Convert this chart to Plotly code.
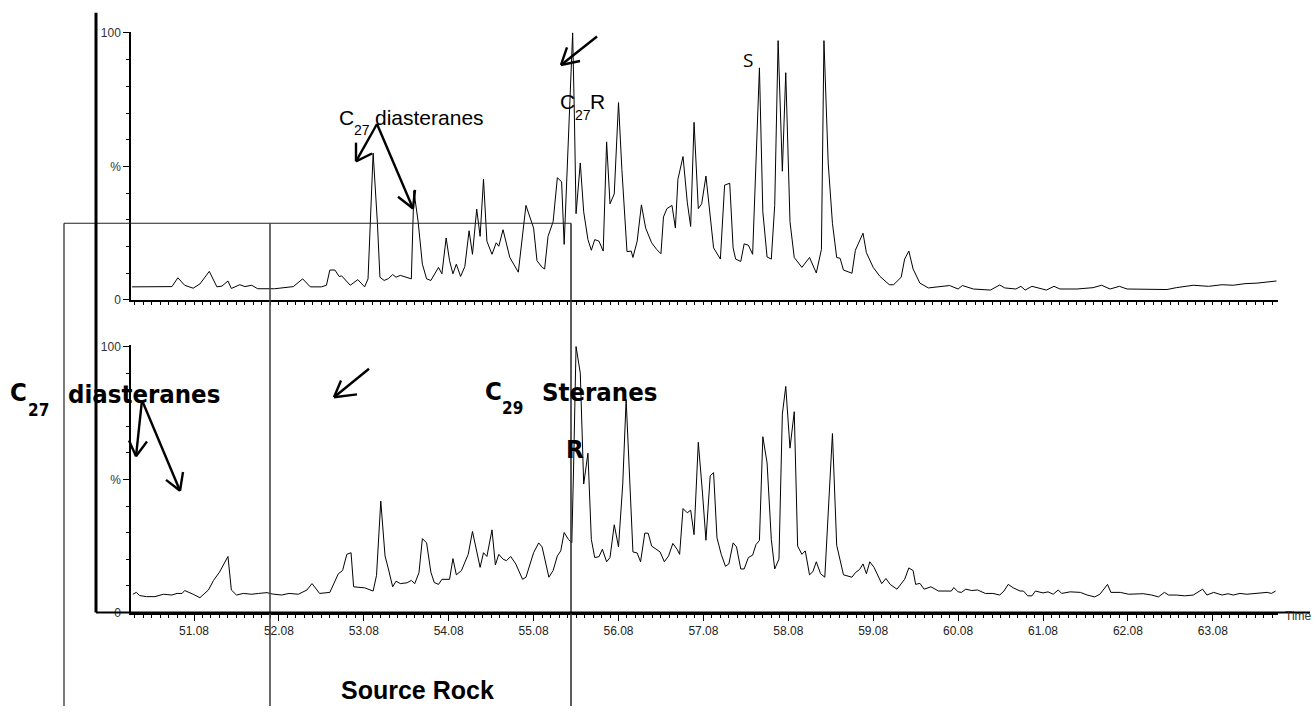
import plotly.graph_objects as go
import numpy as np

# ---------------- data (retention time in minutes, relative intensity %) ----------------
top_time = [50.35, 50.68, 50.82, 50.89, 50.97, 51.07, 51.15, 51.26, 51.35, 51.41,
            51.48, 51.52, 51.62, 51.68, 51.76, 51.83, 52.03, 52.25, 52.36, 52.45,
            52.58, 52.64, 52.68, 52.74, 52.79, 52.82, 52.92, 53.01, 53.09, 53.13,
            53.19, 53.24, 53.27, 53.32, 53.37, 53.42, 53.46, 53.51, 53.64, 53.67,
            53.72, 53.77, 53.82, 53.87, 53.96, 54.00, 54.05, 54.09, 54.13, 54.17,
            54.22, 54.27, 54.32, 54.36, 54.41, 54.45, 54.49, 54.53, 54.59, 54.64,
            54.67, 54.72, 54.80, 54.90, 54.99, 55.08, 55.12, 55.18, 55.21, 55.25,
            55.31, 55.36, 55.41, 55.44, 55.47, 55.50, 55.54, 55.56, 55.58, 55.63,
            55.67, 55.72, 55.76, 55.80, 55.85, 55.90, 55.94, 55.98, 56.03, 56.08,
            56.12, 56.18, 56.23, 56.25, 56.30, 56.35, 56.40, 56.47, 56.53, 56.58,
            56.61, 56.65, 56.71, 56.75, 56.78, 56.84, 56.89, 56.93, 56.97, 57.02,
            57.06, 57.11, 57.16, 57.20, 57.28, 57.33, 57.39, 57.43, 57.46, 57.52,
            57.56, 57.61, 57.66, 57.70, 57.74, 57.78, 57.83, 57.88, 57.92, 57.96,
            58.01, 58.05, 58.10, 58.15, 58.24, 58.33, 58.41, 58.47, 58.50, 58.55,
            58.60, 58.65, 58.69, 58.73, 58.83, 58.87, 58.96, 59.00, 59.08, 59.16,
            59.27, 59.32, 59.41, 59.45, 59.50, 59.55, 59.63, 59.73, 59.83, 59.98,
            60.08, 60.13, 60.26, 60.46, 60.57, 60.63, 60.76, 60.82, 60.87, 60.95,
            61.12, 61.21, 61.28, 61.48, 61.67, 61.77, 61.87, 61.98, 62.07, 62.46,
            62.54, 62.65, 62.85, 63.03, 63.19, 63.32, 63.46, 63.60, 63.75, 63.83]
top_intensity = [4.9, 4.9, 5.0, 8.3, 5.5, 4.4, 6.0, 10.7, 4.9, 5.2,
                 7.1, 4.3, 5.7, 5.0, 5.5, 4.2, 4.2, 5.0, 7.9, 4.9,
                 4.9, 5.5, 11.2, 11.2, 8.8, 9.0, 5.5, 7.6, 4.9, 7.9,
                 55.0, 29.0, 8.5, 7.3, 8.0, 9.5, 8.5, 9.2, 7.9, 40.9,
                 29.3, 13.4, 7.9, 7.3, 12.2, 9.8, 23.2, 14.7, 9.8, 13.4,
                 8.8, 12.5, 25.9, 17.1, 34.0, 23.8, 45.2, 22.0, 17.1, 21.4,
                 20.1, 26.3, 15.9, 10.4, 35.4, 26.9, 14.7, 12.2, 11.6, 23.8,
                 29.3, 45.8, 44.2, 20.8, 45.2, 72.0, 100.0, 69.6, 32.3, 51.3,
                 33.0, 22.6, 18.6, 22.6, 22.0, 18.3, 59.2, 36.0, 39.7, 73.9,
                 48.8, 18.1, 18.3, 15.9, 22.0, 35.6, 26.9, 21.4, 18.9, 17.3,
                 31.1, 34.2, 35.4, 26.9, 45.2, 53.7, 36.6, 27.5, 66.5, 34.2,
                 36.0, 46.4, 30.5, 19.5, 15.3, 43.0, 43.7, 19.5, 15.3, 14.4,
                 21.0, 20.5, 17.1, 49.5, 86.9, 33.0, 16.1, 15.3, 35.4, 97.1,
                 48.2, 85.1, 29.3, 15.9, 12.2, 15.9, 10.1, 18.9, 97.1, 51.3,
                 28.7, 15.9, 15.6, 11.2, 10.0, 18.6, 25.0, 17.7, 12.2, 8.8,
                 5.7, 5.7, 8.5, 15.3, 18.3, 11.6, 6.3, 4.5, 4.9, 5.4,
                 4.1, 5.4, 4.1, 3.7, 5.6, 4.5, 4.1, 5.1, 3.7, 5.1,
                 3.7, 5.1, 4.1, 4.1, 4.6, 5.5, 4.1, 5.1, 4.1, 4.1,
                 3.9, 4.6, 5.5, 5.1, 5.7, 5.5, 6.1, 6.3, 6.7, 7.1]

bottom_time = [50.36, 50.40, 50.44, 50.52, 50.62, 50.72, 50.82, 50.88, 50.94, 50.97,
               51.07, 51.15, 51.25, 51.31, 51.38, 51.48, 51.52, 51.58, 51.66, 51.76,
               51.84, 51.94, 52.00, 52.11, 52.20, 52.31, 52.41, 52.47, 52.56, 52.68,
               52.78, 52.83, 52.88, 52.93, 52.96, 53.09, 53.19, 53.23, 53.28, 53.33,
               53.37, 53.42, 53.46, 53.51, 53.59, 53.64, 53.68, 53.73, 53.77, 53.82,
               53.87, 53.91, 53.96, 54.00, 54.09, 54.13, 54.17, 54.23, 54.31, 54.36,
               54.45, 54.49, 54.53, 54.59, 54.63, 54.67, 54.72, 54.76, 54.81, 54.87,
               54.95, 54.99, 55.08, 55.14, 55.18, 55.26, 55.31, 55.36, 55.40, 55.44,
               55.49, 55.53, 55.55, 55.58, 55.63, 55.67, 55.72, 55.76, 55.80, 55.85,
               55.89, 55.94, 55.98, 56.03, 56.08, 56.13, 56.17, 56.22, 56.25, 56.30,
               56.34, 56.39, 56.43, 56.47, 56.53, 56.57, 56.62, 56.67, 56.72, 56.77,
               56.80, 56.84, 56.89, 56.93, 56.97, 57.02, 57.07, 57.11, 57.16, 57.20,
               57.24, 57.29, 57.34, 57.38, 57.43, 57.47, 57.52, 57.56, 57.61, 57.66,
               57.70, 57.74, 57.78, 57.83, 57.88, 57.92, 57.97, 58.01, 58.05, 58.10,
               58.15, 58.19, 58.24, 58.28, 58.33, 58.37, 58.41, 58.46, 58.51, 58.55,
               58.60, 58.65, 58.73, 58.83, 58.87, 58.92, 58.96, 59.00, 59.04, 59.09,
               59.18, 59.23, 59.28, 59.36, 59.45, 59.50, 59.55, 59.58, 59.63, 59.68,
               59.76, 59.85, 60.00, 60.03, 60.08, 60.12, 60.17, 60.24, 60.31, 60.40,
               60.49, 60.57, 60.62, 60.67, 60.73, 60.81, 60.85, 60.90, 60.95, 60.99,
               61.08, 61.14, 61.20, 61.26, 61.30, 61.40, 61.52, 61.60, 61.69, 61.75,
               61.84, 61.88, 61.99, 62.09, 62.20, 62.26, 62.36, 62.44, 62.51, 62.56,
               62.65, 62.75, 62.85, 62.96, 63.01, 63.09, 63.19, 63.26, 63.32, 63.40,
               63.48, 63.60, 63.72, 63.77, 63.82]
bottom_intensity = [6.9, 7.6, 6.4, 6.0, 6.0, 6.9, 6.6, 7.2, 7.2, 8.3,
                    6.9, 5.6, 8.5, 12.1, 15.2, 21.1, 8.5, 6.6, 7.2, 6.9,
                    7.2, 7.5, 7.0, 6.6, 7.2, 6.9, 8.5, 10.9, 7.2, 7.6,
                    14.6, 15.8, 21.9, 22.5, 9.7, 9.3, 8.1, 14.0, 41.9, 21.3,
                    16.4, 9.7, 11.8, 10.9, 11.2, 12.1, 10.9, 15.0, 27.8, 26.2,
                    15.2, 11.3, 10.6, 12.5, 12.5, 20.3, 14.2, 15.8, 21.9, 30.5,
                    17.0, 22.5, 21.1, 31.1, 17.9, 21.9, 20.1, 19.5, 21.1, 18.3,
                    12.5, 13.3, 22.5, 26.2, 24.7, 13.3, 15.8, 21.3, 23.2, 30.1,
                    27.5, 26.2, 53.2, 100.0, 90.0, 48.3, 59.9, 27.5, 20.7, 21.0,
                    23.8, 19.1, 20.7, 33.0, 24.7, 48.3, 80.1, 41.5, 22.8, 22.4,
                    19.1, 29.9, 29.8, 25.0, 23.8, 22.8, 19.1, 21.3, 26.0, 23.8,
                    21.9, 39.1, 37.5, 38.5, 29.3, 64.0, 44.6, 27.2, 51.4, 52.6,
                    28.1, 21.9, 17.4, 18.3, 26.2, 24.7, 16.4, 16.4, 20.7, 21.6,
                    25.6, 27.1, 66.1, 56.3, 27.5, 16.4, 20.1, 74.6, 85.0, 61.8,
                    75.5, 25.0, 21.9, 23.2, 14.2, 15.4, 19.1, 14.6, 13.3, 37.2,
                    67.3, 25.3, 14.2, 13.3, 15.0, 16.2, 18.3, 14.6, 19.1, 17.0,
                    10.9, 12.8, 10.6, 8.8, 12.5, 16.8, 15.8, 10.6, 11.0, 8.8,
                    9.7, 8.1, 8.1, 9.4, 7.8, 7.6, 8.8, 8.3, 8.5, 7.2,
                    7.2, 6.6, 8.1, 10.6, 9.3, 8.1, 8.1, 6.3, 6.3, 8.1,
                    7.4, 7.8, 6.9, 8.5, 7.2, 7.8, 7.6, 6.6, 5.9, 6.9,
                    10.6, 7.6, 7.6, 6.9, 6.9, 7.1, 6.6, 5.9, 7.6, 6.6,
                    6.6, 6.3, 6.6, 8.8, 6.6, 7.6, 6.6, 7.1, 6.6, 7.2,
                    6.9, 7.2, 7.6, 7.2, 8.1]

assert len(top_time) == len(top_intensity)
assert len(bottom_time) == len(bottom_intensity)

x_labels = ["51.08", "52.08", "53.08", "54.08", "55.08", "56.08",
            "57.08", "58.08", "59.08", "60.08", "61.08", "62.08", "63.08"]
y_tick_vals = [0, 50, 100]
y_tick_text = ["0", "%", "100"]

# ---------------- layout helpers ----------------
W, H = 1316, 713
X_RANGE = [50.338, 63.848]


def px(x):
    return x / W


def py(y):
    return 1 - y / H


shapes = []
annotations = []


def seg(x0, y0, x1, y1, w=1.0, c="black"):
    shapes.append(dict(type="line", xref="paper", yref="paper",
                       x0=px(x0), y0=py(y0), x1=px(x1), y1=py(y1),
                       line=dict(color=c, width=w)))


def arrow(x0, y0, x1, y1, a, b, w=2.4):
    seg(x0, y0, x1, y1, w)
    seg(x1, y1, a[0], a[1], w)
    seg(x1, y1, b[0], b[1], w)


def text(s, x, y, size, family, color="black", xanchor="left"):
    annotations.append(dict(text=s, x=px(x), y=py(y), xref="paper", yref="paper",
                            xanchor=xanchor, yanchor="middle", showarrow=False,
                            font=dict(size=size, family=family, color=color)))


# major ticks every 0.5 min, labels only at the .08 values
major_vals = [round(v, 2) for v in np.arange(50.58, 63.85, 0.5)]
major_text = [("%.2f" % v) if ("%.2f" % v) in x_labels else "" for v in major_vals]
minor_vals = [round(v, 2) for v in np.arange(50.38, 63.85, 0.1)]

tick_font = dict(family="Liberation Sans Narrow, Liberation Sans, Arial", size=12, color="#222")

fig = go.Figure()
fig.add_trace(go.Scatter(x=top_time, y=top_intensity, mode="lines",
                         line=dict(color="black", width=1), xaxis="x", yaxis="y",
                         showlegend=False, hoverinfo="skip"))
fig.add_trace(go.Scatter(x=bottom_time, y=bottom_intensity, mode="lines",
                         line=dict(color="black", width=1), xaxis="x2", yaxis="y2",
                         showlegend=False, hoverinfo="skip"))

xdom = [px(131), px(1278)]
common_x = dict(range=X_RANGE, domain=xdom, showgrid=False, zeroline=False,
                showline=True, linecolor="black", linewidth=2,
                ticks="outside", ticklen=6, tickwidth=1, tickcolor="black",
                tickmode="array", tickvals=major_vals,
                minor=dict(tickmode="array", tickvals=minor_vals, ticks="outside",
                           ticklen=3, tickwidth=1, tickcolor="black"),
                tickfont=tick_font)
common_y = dict(range=[0, 100.5], showgrid=False, zeroline=False,
                showline=True, linecolor="black", linewidth=1.5,
                ticks="outside", ticklen=6, tickwidth=1, tickcolor="black",
                tickmode="array", tickvals=y_tick_vals, ticktext=y_tick_text,
                minor=dict(tickmode="array", tickvals=[10, 20, 30, 40, 60, 70, 80, 90],
                           ticks="outside", ticklen=3, tickwidth=1, tickcolor="black"),
                tickfont=dict(family="Liberation Sans Narrow, Liberation Sans, Arial",
                              size=12, color="#333"))

fig.update_layout(
    width=W, height=H, autosize=False,
    margin=dict(l=0, r=0, t=0, b=0),
    paper_bgcolor="white", plot_bgcolor="white",
    xaxis=dict(common_x, anchor="y", ticktext=["" for _ in major_vals], showticklabels=False),
    yaxis=dict(common_y, anchor="x", domain=[py(300), py(27)]),
    xaxis2=dict(common_x, anchor="y2", ticktext=major_text),
    yaxis2=dict(common_y, anchor="x2", domain=[py(618), py(346)]),
)

# ---------------- frame lines drawn over the chromatograms ----------------
seg(64, 222, 571, 222, 1.2, "#222")
seg(64, 222, 64, 713, 1.2, "#222")
seg(270, 222, 270, 713, 1.6, "#444")
seg(571, 222, 571, 713, 1.6, "#333")
seg(96, 8, 96, 618, 3, "black")
seg(96, 618, 1310, 618, 2, "black")

# ---------------- arrows ----------------
arrow(377, 121, 356, 159, (356, 140), (372, 151))
arrow(377, 121, 413, 207, (415, 188), (398, 195))
arrow(597, 32, 561, 61, (567, 43), (580, 57))
arrow(142, 402, 136, 459, (129, 443), (147, 444))
arrow(142, 402, 180, 494, (166, 483), (183, 475))
arrow(369, 370, 334, 399, (341, 382), (357, 396))

# ---------------- labels ----------------
reg = "Liberation Sans, Arial"
text("C", 337, 114, 21, reg)
text("27", 352, 127, 14, reg)
text("diasteranes", 373, 114, 21, reg)
text("C", 558, 98, 21, reg)
text("27", 573, 112, 14, reg)
text("R", 588, 98, 21, reg)
text("S", 748, 56, 19, "Open Sans", xanchor="center")

cond = "DejaVu Sans Condensed, DejaVu Sans"
text("<b>C</b>", 8, 394, 25.5, cond)
text("<b>27</b>", 26, 412, 17, cond)
text("<b>diasteranes</b>", 66, 396, 25.5, cond)
text("<b>C</b>", 483, 393, 25.5, cond)
text("<b>29</b>", 500, 410, 17, cond)
text("<b>Steranes</b>", 540, 394, 25.5, cond)
text("<b>R</b>", 564, 452, 25.5, cond)

text("<b>Source Rock</b>", 339, 697, 25, reg)
text("Time", 1283, 621, 12, reg, color="#333")

fig.update_layout(shapes=shapes, annotations=annotations)

fig.write_html("out.html", config={"displayModeBar": False},
               post_script="document.body.style.margin='0';document.body.style.overflow='hidden';")
